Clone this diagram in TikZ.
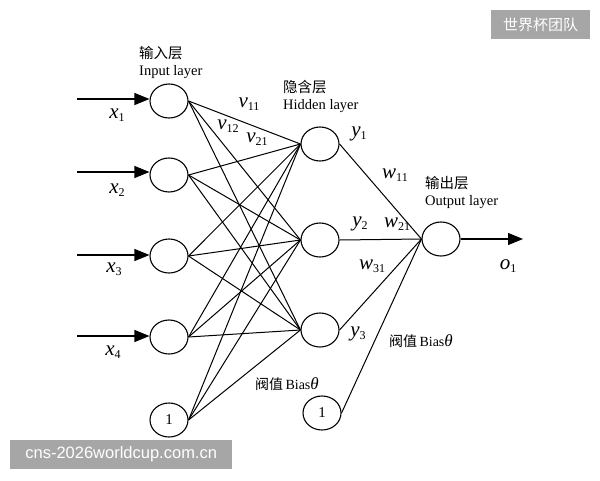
\documentclass[tikz,border=0pt]{standalone}
\usepackage{fontspec}
\setmainfont{Liberation Serif}
\newfontfamily\cjk{Noto Sans CJK SC}
\newfontfamily\wmsans{Liberation Sans}
\usetikzlibrary{shapes.geometric,arrows.meta}
\newcommand\vsub[2]{{\fontsize{21}{21}\selectfont\itshape #1}{\fontsize{12}{12}\selectfont\raisebox{-0.45ex}{#2}}}
\tikzset{
  neuron/.style={ellipse,draw,line width=1.1pt,minimum width=38pt,minimum height=34pt,inner sep=0pt,font=\fontsize{15}{15}\selectfont},
  conn/.style={line width=1pt},
  inarrow/.style={line width=1.1pt,-{Triangle[length=15pt,width=12pt]}},
  lay/.style={align=left,inner sep=0pt,anchor=north west,font=\fontsize{14.5}{17}\selectfont},
  lbl/.style={inner sep=0pt},
  biaslbl/.style={inner sep=0pt,font=\fontsize{14}{14}\selectfont},
  wm/.style={fill=black!35,text=white,inner sep=0pt,anchor=north west}
}
\begin{document}
\begin{tikzpicture}[x=1pt,y=-1pt]
\useasboundingbox (0,0) rectangle (600,480);
% input layer
\node[neuron] (i1) at (169,101) {};
\node[neuron] (i2) at (169,175) {};
\node[neuron] (i3) at (169,256) {};
\node[neuron] (i4) at (169,337) {};
\node[neuron] (ib) at (169,420) {1};
% hidden layer
\node[neuron] (h1) at (320,144) {};
\node[neuron] (h2) at (320,240) {};
\node[neuron] (h3) at (320,330) {};
% output
\node[neuron] (o) at (441,239) {};
\node[neuron] (hb) at (322,413) {1};
% input arrows
\coordinate (s1) at (77,99);
\coordinate (s2) at (77,172);
\coordinate (s3) at (77,255);
\coordinate (s4) at (77,336);
\draw[inarrow] (s1) -- (s1 -| i1.west);
\draw[inarrow] (s2) -- (s2 -| i2.west);
\draw[inarrow] (s3) -- (s3 -| i3.west);
\draw[inarrow] (s4) -- (s4 -| i4.west);
\coordinate (oe) at (523,239);
\draw[inarrow] (o.east) -- (oe);
% connections input -> hidden
\foreach \i in {i1,i2,i3,i4,ib}{
  \foreach \h in {h1,h2,h3}{
    \draw[conn] (\i.east) -- (\h.west);
  }
}
% hidden -> output
\foreach \h in {h1,h2,h3,hb}{
  \draw[conn] (\h.east) -- (o.west);
}
% layer titles
\node[lay] (tin) at (139,46) {{\cjk 输入层}\\Input layer};
\node[lay] (thid) at (283,80) {{\cjk 隐含层}\\Hidden layer};
\node[lay] (tout) at (425,176) {{\cjk 输出层}\\Output layer};
% variable labels
\node[lbl] (lx1) at (117,115) {\vsub{x}{1}};
\node[lbl] (lx2) at (117,190) {\vsub{x}{2}};
\node[lbl] (lx3) at (114,269) {\vsub{x}{3}};
\node[lbl] (lx4) at (113,352) {\vsub{x}{4}};
\node[lbl] (lv11) at (249,104) {\vsub{v}{11}};
\node[lbl] (lv12) at (228,126) {\vsub{v}{12}};
\node[lbl] (lv21) at (257,139) {\vsub{v}{21}};
\node[lbl] (ly1) at (359,134) {\vsub{y}{1}};
\node[lbl] (ly2) at (360,224) {\vsub{y}{2}};
\node[lbl] (ly3) at (358,334) {\vsub{y}{3}};
\node[lbl] (lw11) at (395,175) {\vsub{w}{11}};
\node[lbl] (lw21) at (397,224) {\vsub{w}{21}};
\node[lbl] (lw31) at (372,266) {\vsub{w}{31}};
\node[lbl] (lo1) at (508,266) {\vsub{o}{1}};
\node[biaslbl] (b1) at (287,384) {{\cjk 阀值}\,Bias{\itshape\fontsize{17}{17}\selectfont θ}};
\node[biaslbl] (b2) at (421,341) {{\cjk 阀值}\,Bias{\itshape\fontsize{17}{17}\selectfont θ}};
% watermarks
\node[wm,minimum width=99pt,minimum height=29pt] (wm1) at (491,10) {};
\node[text=white,font=\cjk\fontsize{15}{15}\selectfont] (wm1t) at (wm1.center) {世界杯团队};
\node[wm,minimum width=222pt,minimum height=29pt] (wm2) at (10,440) {};
\node[text=white,font=\wmsans\fontsize{16.5}{16.5}\selectfont] (wm2t) at (wm2.center) {cns-2026worldcup.com.cn};
\end{tikzpicture}
\end{document}
